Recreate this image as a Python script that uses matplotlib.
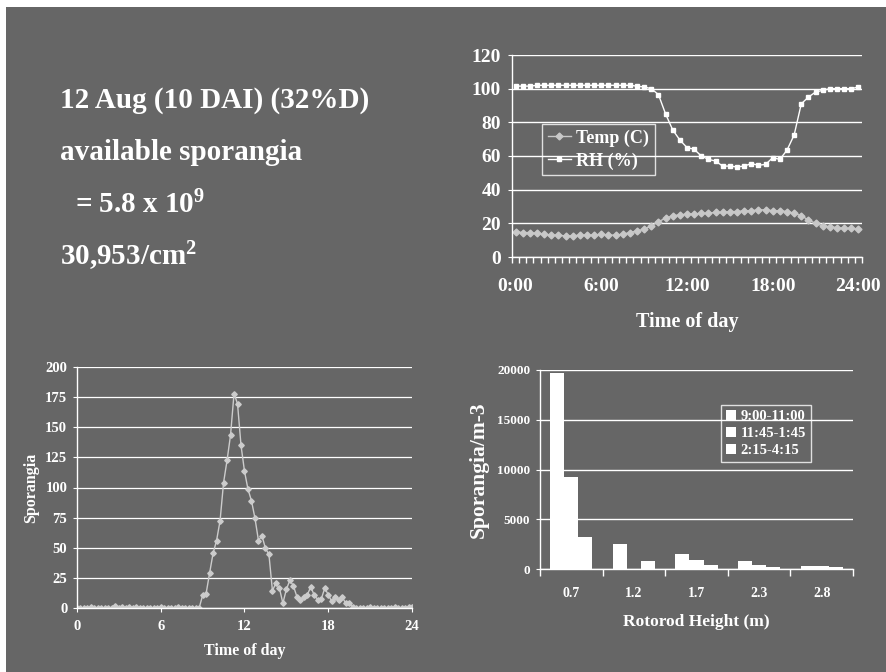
import numpy as np
import matplotlib
matplotlib.use("Agg")
import matplotlib.pyplot as plt
from matplotlib.patches import Rectangle

plt.rcParams['font.family'] = ['Liberation Serif', 'DejaVu Serif']
plt.rcParams['font.weight'] = 'bold'
plt.rcParams['mathtext.fontset'] = 'custom'
plt.rcParams['mathtext.rm'] = 'Liberation Serif:bold'
plt.rcParams['mathtext.bf'] = 'Liberation Serif:bold'
plt.rcParams['mathtext.it'] = 'Liberation Serif:bold'
plt.rcParams['mathtext.default'] = 'bf'

BG = '#666666'
W, H = 887, 672

# --- weather (every 30 min, 0:00 - 24:00) ---
weather_ticklabels = ["0:00", "6:00", "12:00", "18:00", "24:00"]
temp = [15, 14.5, 14.5, 14, 13.5, 13, 13, 12.5, 12.5, 13, 13, 13, 13.5, 13, 13,
        13.5, 14.5, 15.5, 16.5, 18.5, 21, 23, 24.5, 25, 25.5, 25.5, 26, 26, 26.5,
        26.5, 27, 27, 27.5, 27.5, 28, 28, 27.5, 27.5, 27, 26, 24.5, 22, 20, 18.5,
        18, 17.5, 17, 17, 16.5]
rh = [101.5, 101.5, 101.5, 102, 102, 102, 102, 102, 102, 102, 102, 102, 102, 102,
      102, 102, 102, 101.5, 101, 100, 96.5, 85, 75.5, 69.5, 65, 64, 60, 58, 57, 54,
      54, 53.5, 54, 55.5, 54.5, 55, 59, 58, 63.5, 72.5, 91, 95, 98, 99, 100, 100,
      100, 100, 101]

# --- sporangia trap counts (every 15 min) ---
spor_times = np.arange(0, 24.25, 0.25)
sporangia = [0, 0, 0, 0, 1, 0, 0, 0, 0, 0, 0, 2, 0, 1, 0, 1, 0, 1, 0, 0,
             0, 0, 0, 0, 1, 0, 0, 0, 0, 1, 0, 0, 0, 0, 0, 0,
             10.5, 12, 29, 45.5, 56, 72.5, 104, 122.5, 143.5, 178, 169.5, 135,
             113.5, 98.5, 89, 74.5, 56, 60, 49.5, 44.5, 14.5, 20.5, 16.5, 4,
             15.5, 23, 18.5, 9.5, 7, 9, 11, 17.5, 10.5, 7, 7.5, 16.5,
             11, 5.5, 9, 6.5, 9, 4, 4, 1, 0, 0, 0, 0, 1, 0, 0, 0,
             0, 0, 0, 1, 0, 0, 0, 1, 1]

# --- rotorod heights ---
rotorod_heights = ["0.7", "1.2", "1.7", "2.3", "2.8"]
series_names = ["9:00-11:00", "11:45-1:45", "2:15-4:15"]
morning = [19700, 2500, 1500, 840, 330]
midday = [9200, 0, 940, 370, 300]
afternoon = [3200, 770, 430, 200, 200]


def ax_rect(left, top, right, bottom):
    return [left / W, 1 - bottom / H, (right - left) / W, (bottom - top) / H]


def style_axes(ax):
    ax.set_facecolor('none')
    for s in ['top', 'right']:
        ax.spines[s].set_visible(False)
    for s in ['left', 'bottom']:
        ax.spines[s].set_color('white')
        ax.spines[s].set_linewidth(1)
    ax.tick_params(colors='white', labelcolor='white', direction='out')


def white_legend(leg):
    leg.get_frame().set_facecolor('none')
    leg.get_frame().set_edgecolor('white')
    leg.get_frame().set_linewidth(1)
    for t in leg.get_texts():
        t.set_color('white')


fig = plt.figure(figsize=(W / 100, H / 100), dpi=100, facecolor='white')
fig.patches.append(Rectangle((6 / W, 0), 1 - 6 / W, 1 - 7 / H, transform=fig.transFigure,
                             facecolor=BG, edgecolor='none', zorder=-10))

# left text block
fig.text(60 / W, 1 - 108 / H, "12 Aug (10 DAI) (32%D)", color='white', fontsize=21,
         fontweight='bold', va='baseline')
fig.text(60 / W, 1 - 160 / H, "available sporangia", color='white', fontsize=21,
         fontweight='bold', va='baseline')
fig.text(75 / W, 1 - 213 / H, "= 5.8 x 10$^{9}$", color='white', fontsize=21,
         fontweight='bold', va='baseline')
fig.text(60 / W, 1 - 265 / H, "30,953/cm$^{2}$", color='white', fontsize=21,
         fontweight='bold', va='baseline')

# top right: temperature and RH
ax1 = fig.add_axes(ax_rect(512, 55, 862, 257))
style_axes(ax1)
x = np.arange(len(temp))
ax1.plot(x, temp, color='#C8C8C8', lw=1, marker='D', ms=3.5, label="Temp (C)")
ax1.plot(x, rh, color='white', lw=1, marker='s', ms=3.5, label="RH (%)")
ax1.set_xlim(-0.5, len(temp) - 0.5)
ax1.set_ylim(0, 120)
ax1.set_yticks(range(0, 121, 20))
ax1.yaxis.grid(True, color='white', lw=1)
ax1.set_axisbelow(True)
ax1.set_xticks([0, 12, 24, 36, 48])
ax1.set_xticklabels(weather_ticklabels)
ax1.set_xticks(np.arange(-0.5, len(temp), 1), minor=True)
ax1.tick_params(axis='x', which='major', length=0, pad=15, labelsize=14)
ax1.tick_params(axis='x', which='minor', length=4, color='white', width=1)
ax1.tick_params(axis='y', length=3, pad=5, labelsize=14)
ax1.set_xlabel("Time of day", color='white', fontsize=14.5, fontweight='bold', labelpad=12)
leg1 = ax1.legend(loc='upper left', bbox_to_anchor=(0.086, 0.658), borderaxespad=0,
                  fontsize=13, frameon=True, fancybox=False, handlelength=1.3,
                  handletextpad=0.3, borderpad=0.3, labelspacing=0.3)
white_legend(leg1)

# bottom left: sporangia over the day
ax2 = fig.add_axes(ax_rect(77, 367, 412, 608))
style_axes(ax2)
ax2.plot(spor_times, sporangia, color='#CCCCCC', lw=1, marker='D', ms=2.8)
ax2.set_xlim(0, 24)
ax2.set_ylim(0, 200)
ax2.set_yticks(range(0, 201, 25))
ax2.set_xticks([0, 6, 12, 18, 24])
ax2.yaxis.grid(True, color='white', lw=0.9)
ax2.set_axisbelow(True)
ax2.tick_params(axis='x', length=3, pad=6, labelsize=10.5)
ax2.tick_params(axis='y', length=3, pad=4, labelsize=10.5)
ax2.set_xlabel("Time of day", color='white', fontsize=11.5, fontweight='bold', labelpad=7)
ax2.set_ylabel("Sporangia", color='white', fontsize=11.5, fontweight='bold', labelpad=4)

# bottom right: sporangia by rotorod height
ax3 = fig.add_axes(ax_rect(540, 370, 853, 569))
style_axes(ax3)
pos = np.arange(len(rotorod_heights))
bw = 0.225
for off, vals, name in zip([-bw, 0, bw], [morning, midday, afternoon], series_names):
    ax3.bar(pos + off, vals, width=bw, color='white', edgecolor='none', label=name)
ax3.set_xlim(-0.5, len(rotorod_heights) - 0.5)
ax3.set_ylim(0, 20000)
ax3.set_yticks(range(0, 20001, 5000))
ax3.yaxis.grid(True, color='white', lw=1)
ax3.set_axisbelow(True)
ax3.set_xticks(pos)
ax3.set_xticklabels(rotorod_heights)
ax3.set_xticks(np.arange(-0.5, len(rotorod_heights), 1), minor=True)
ax3.tick_params(axis='x', which='major', length=0, pad=13, labelsize=10)
ax3.tick_params(axis='x', which='minor', length=5, color='white', width=1)
ax3.tick_params(axis='y', length=3, pad=4, labelsize=9.5)
ax3.set_xlabel("Rotorod Height (m)", color='white', fontsize=12.5, fontweight='bold', labelpad=10)
ax3.set_ylabel("Sporangia/m-3", color='white', fontsize=15.5, fontweight='bold', labelpad=6)
leg3 = ax3.legend(loc='upper left', bbox_to_anchor=(0.578, 0.824), borderaxespad=0,
                  fontsize=10.5, frameon=True, fancybox=False, handlelength=0.7,
                  handleheight=0.7, handletextpad=0.3, borderpad=0.35, labelspacing=0.25)
white_legend(leg3)

fig.savefig("out.png", dpi=100, facecolor=fig.get_facecolor())
